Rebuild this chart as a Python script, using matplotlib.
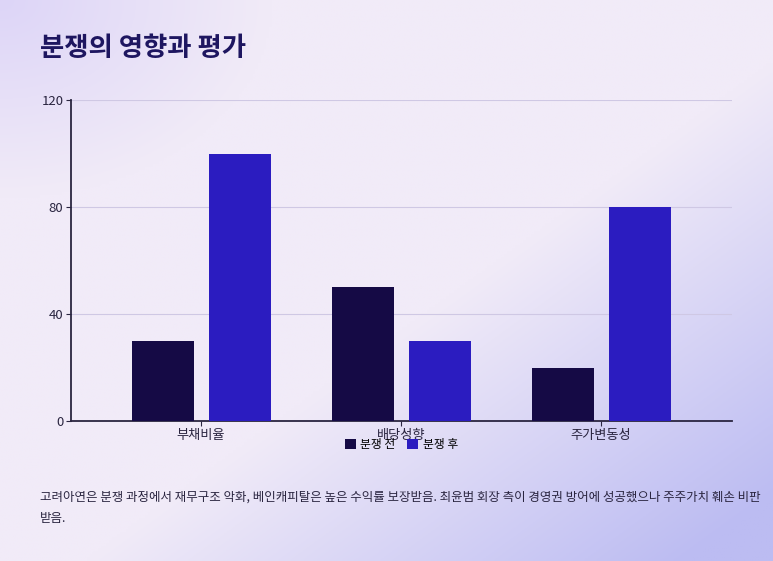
import matplotlib
matplotlib.use("Agg")
import matplotlib.pyplot as plt
from matplotlib import font_manager as fm
import numpy as np
from matplotlib.colors import to_rgb

names = sorted({f.name for f in fm.fontManager.ttflist if "CJK" in f.name})
pref = [n for n in ["Noto Sans CJK KR", "Noto Sans CJK JP", "Noto Sans CJK SC", "Noto Sans CJK TC"] if n in names]
plt.rcParams["font.family"] = "sans-serif"
plt.rcParams["font.sans-serif"] = pref + names + ["DejaVu Sans"]

categories = ["부채비율", "배당성향", "주가변동성"]
before = [30, 50, 20]
after = [100, 30, 80]
series_names = ["분쟁 전", "분쟁 후"]
yticks = [0, 40, 80, 120]
title = "분쟁의 영향과 평가"
note = "고려아연은 분쟁 과정에서 재무구조 악화, 베인캐피탈은 높은 수익률 보장받음. 최윤범 회장 측이 경영권 방어에 성공했으나 주주가치 훼손 비판\n받음."

W, H = 773, 561
fig = plt.figure(figsize=(W/100, H/100), dpi=100)

bg = fig.add_axes([0, 0, 1, 1], zorder=-10)
yy, xx = np.mgrid[0:1:200j, 0:1:280j]
base = np.array(to_rgb("#f1ebf8"))
corner = np.array(to_rgb("#bcbcf2"))
tl = np.array(to_rgb("#ddd5f7"))
t = np.clip((xx*0.9 + yy*0.9 - 1.0) / 0.7, 0, 1)
s = np.clip(1 - np.sqrt(xx**2 + yy**2) / 0.35, 0, 1)
img = base[None, None, :] * (1 - t[..., None]) + corner[None, None, :] * t[..., None]
img = img * (1 - s[..., None]) + tl[None, None, :] * s[..., None]
bg.imshow(img, extent=[0, 1, 0, 1], origin="upper", aspect="auto")
bg.axis("off")

ax = fig.add_axes([71/W, 1-421/H, (732-71)/W, (421-100)/H])
ax.patch.set_alpha(0)
x = np.arange(len(categories))
ax.bar(x - 0.19, before, 0.31, color="#150a45", label=series_names[0], zorder=3)
ax.bar(x + 0.195, after, 0.31, color="#2b1cc0", label=series_names[1], zorder=3)
ax.set_xlim(-0.65, 2.655)
ax.set_ylim(0, 120)
ax.set_yticks(yticks)
ax.set_xticks(x)
ax.set_xticklabels(categories)
ax.grid(axis="y", color="#cfc8e4", linewidth=0.8, zorder=0)
for sp in ["top", "right"]:
    ax.spines[sp].set_visible(False)
for sp in ["left", "bottom"]:
    ax.spines[sp].set_color("#2a2540")
    ax.spines[sp].set_linewidth(1.3)
ax.tick_params(colors="#2a2540", labelsize=9.5, pad=2)
ax.legend(loc="upper center", bbox_to_anchor=(0.5, -0.045), ncol=2, frameon=False,
          fontsize=8.5, handlelength=0.9, handleheight=0.9, columnspacing=1.0,
          handletextpad=0.4, borderaxespad=0, borderpad=0.2)

fig.text(40/W, 1-48/H, title, fontsize=19, fontweight="bold", color="#1e1660", va="center")
fig.text(40/W, 1-508/H, note, fontsize=9, color="#2a2540", va="center", linespacing=1.8)

fig.savefig("out.png", dpi=100)
